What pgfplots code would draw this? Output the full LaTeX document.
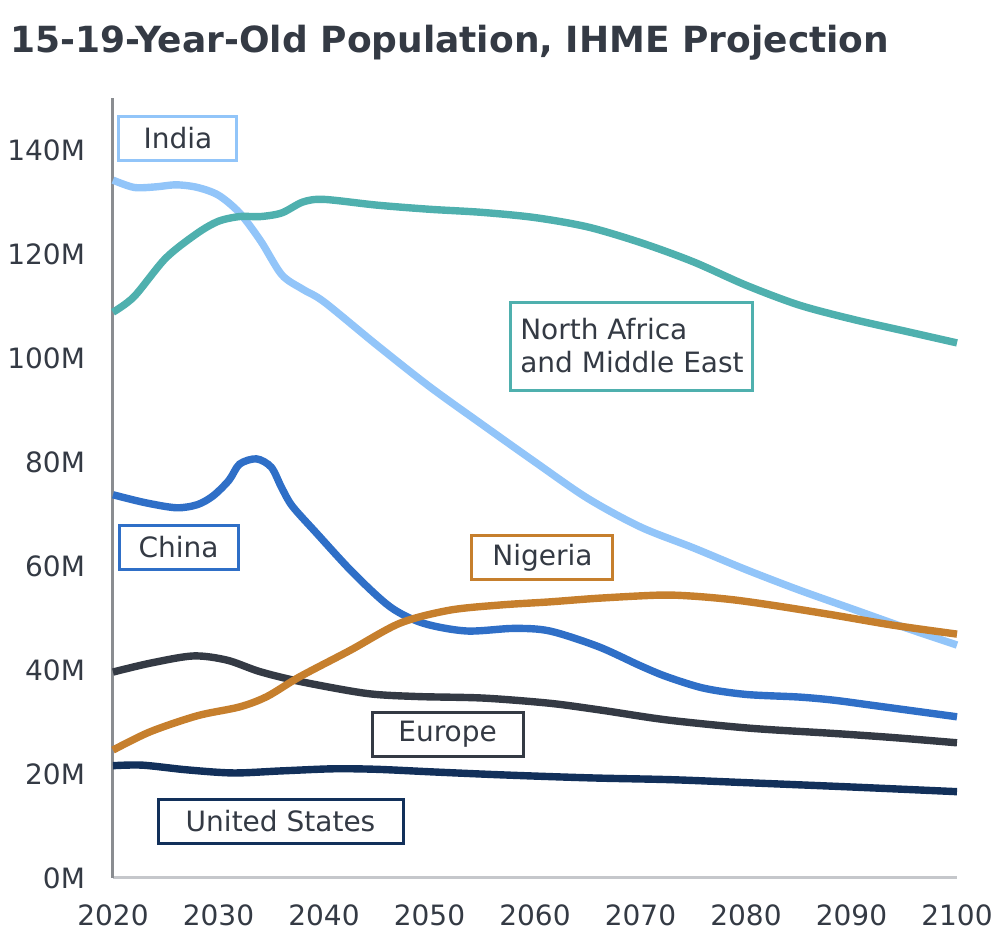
\documentclass[border=0pt]{standalone}
\usepackage{pgfplots}
\pgfplotsset{compat=1.18}
\usepackage{fontspec}
\setmainfont{DejaVu Sans}
\definecolor{cIndia}{HTML}{92C5F9}
\definecolor{cName}{HTML}{4FB0AE}
\definecolor{cChina}{HTML}{2F6FC7}
\definecolor{cNigeria}{HTML}{C67F2D}
\definecolor{cEurope}{HTML}{343A44}
\definecolor{cUS}{HTML}{12305A}
\definecolor{ctext}{HTML}{343A44}
\definecolor{cyax}{HTML}{8A8D91}
\definecolor{cxax}{HTML}{C5C7CB}
\tikzset{lbl/.style={draw, line width=1.5pt, fill=white, text=ctext, font=\fontsize{14}{16.5}\selectfont, inner sep=0pt, minimum height=22pt, anchor=center}}
\begin{document}
\begin{tikzpicture}
\path[use as bounding box] (-56.5pt,-34pt) rectangle (443.5pt,439pt);
\begin{axis}[
  at={(0pt,0pt)}, anchor=south west,
  scale only axis, width=422pt, height=390pt,
  xmin=2020, xmax=2100, ymin=0, ymax=150,
  clip=false,
  axis x line*=bottom, axis y line*=left,
  x axis line style={draw=cxax, line width=1.5pt, -},
  y axis line style={draw=cyax, line width=1.5pt, -},
  xtick={2020,2030,2040,2050,2060,2070,2080,2090,2100},
  xticklabels={2020,2030,2040,2050,2060,2070,2080,2090,2100},
  ytick={0,20,40,60,80,100,120,140},
  yticklabels={0M,20M,40M,60M,80M,100M,120M,140M},
  major tick length=0pt,
  tick style={draw=none},
  xticklabel style={font=\fontsize{14}{16}\selectfont, text=ctext, yshift=-9.8pt},
  yticklabel style={font=\fontsize{14}{16}\selectfont, text=ctext, xshift=-10.5pt},
  every axis plot/.append style={line width=3.7pt, smooth, tension=0.5, no markers},
]
\addplot[cUS] coordinates {
(2020,21.6)(2022.8,21.7)(2027,20.8)(2031.4,20.2)(2036,20.6)(2040.9,21)(2045,20.9)(2050.3,20.4)(2056,19.9)(2061.4,19.5)(2066.2,19.2)(2073,18.9)(2080.4,18.3)(2090,17.5)(2100,16.6)};
\addplot[cEurope] coordinates {
(2020,39.6)(2023.5,41.3)(2027.6,42.7)(2030.8,41.9)(2033.9,39.7)(2037.7,37.8)(2044,35.5)(2048.8,34.9)(2055.1,34.6)(2061.4,33.6)(2066.2,32.3)(2072.5,30.4)(2080.4,28.8)(2088.3,27.8)(2094,27)(2100,26)};
\addplot[cChina] coordinates {
(2020,73.7)(2023,72.2)(2026,71.2)(2028,71.8)(2029.5,73.5)(2031,76.5)(2032,79.6)(2033.6,80.6)(2035,79)(2036,75)(2037,71.5)(2039.3,66.3)(2042.8,58.6)(2046.3,52.1)(2049.4,49)(2053.5,47.5)(2058,48)(2061.4,47.5)(2066,44.5)(2070,40.8)(2072.5,38.7)(2076,36.5)(2080,35.3)(2085,34.8)(2088.3,34.2)(2092,33.2)(2096,32.1)(2100,31)};
\addplot[cIndia] coordinates {
(2020,134.2)(2022,132.8)(2024,132.9)(2026,133.3)(2028,132.8)(2030,131.3)(2032,127.9)(2034,122.5)(2036,116)(2038,113.2)(2040,110.8)(2045,102.5)(2050,94.5)(2055,87.2)(2060,80)(2065,73)(2070,67.5)(2075,63.5)(2080,59.3)(2085,55.4)(2090,51.8)(2095,48.2)(2100,44.8)};
\addplot[cName] coordinates {
(2020,108.8)(2022,111.8)(2025,119.2)(2028,124)(2030,126.3)(2032,127.2)(2034,127.2)(2036,127.9)(2038,130)(2040,130.5)(2045,129.4)(2050,128.6)(2055,128)(2060,127)(2065,125.2)(2070,122.2)(2075,118.5)(2080,114)(2085,110.2)(2090,107.5)(2095,105.2)(2100,102.9)};
\addplot[cNigeria] coordinates {
(2020,24.6)(2023.5,28.1)(2028,31.2)(2032,32.9)(2034.6,34.9)(2037.7,38.7)(2042.5,43.8)(2047.2,49)(2051.9,51.5)(2056.7,52.5)(2061.4,53.1)(2066,53.8)(2071.8,54.4)(2075,54.2)(2078.8,53.5)(2083,52.3)(2088.2,50.6)(2094,48.6)(2100,46.9)};
\node[lbl, draw=cIndia, minimum width=59pt] at (axis cs:2026.16,142.3) {India};
\node[lbl, draw=cChina, minimum width=59.5pt] at (axis cs:2026.21,63.65) {China};
\node[lbl, draw=cName, minimum width=121pt, minimum height=44pt, align=left, inner xsep=4pt] at (axis cs:2069.19,102.3) {North Africa\\and Middle East};
\node[lbl, draw=cNigeria, minimum width=70.5pt] at (axis cs:2060.71,61.54) {Nigeria};
\node[lbl, draw=cEurope, minimum width=75.5pt] at (axis cs:2051.71,27.69) {Europe};
\node[lbl, draw=cUS, minimum width=122.5pt] at (axis cs:2035.88,10.96) {United States};
\end{axis}
\node[anchor=base west, inner sep=0pt, text=ctext, font=\fontsize{18}{21}\selectfont\bfseries] at (-51.5pt,412.5pt) {15-19-Year-Old Population, IHME Projection};
\end{tikzpicture}
\end{document}
